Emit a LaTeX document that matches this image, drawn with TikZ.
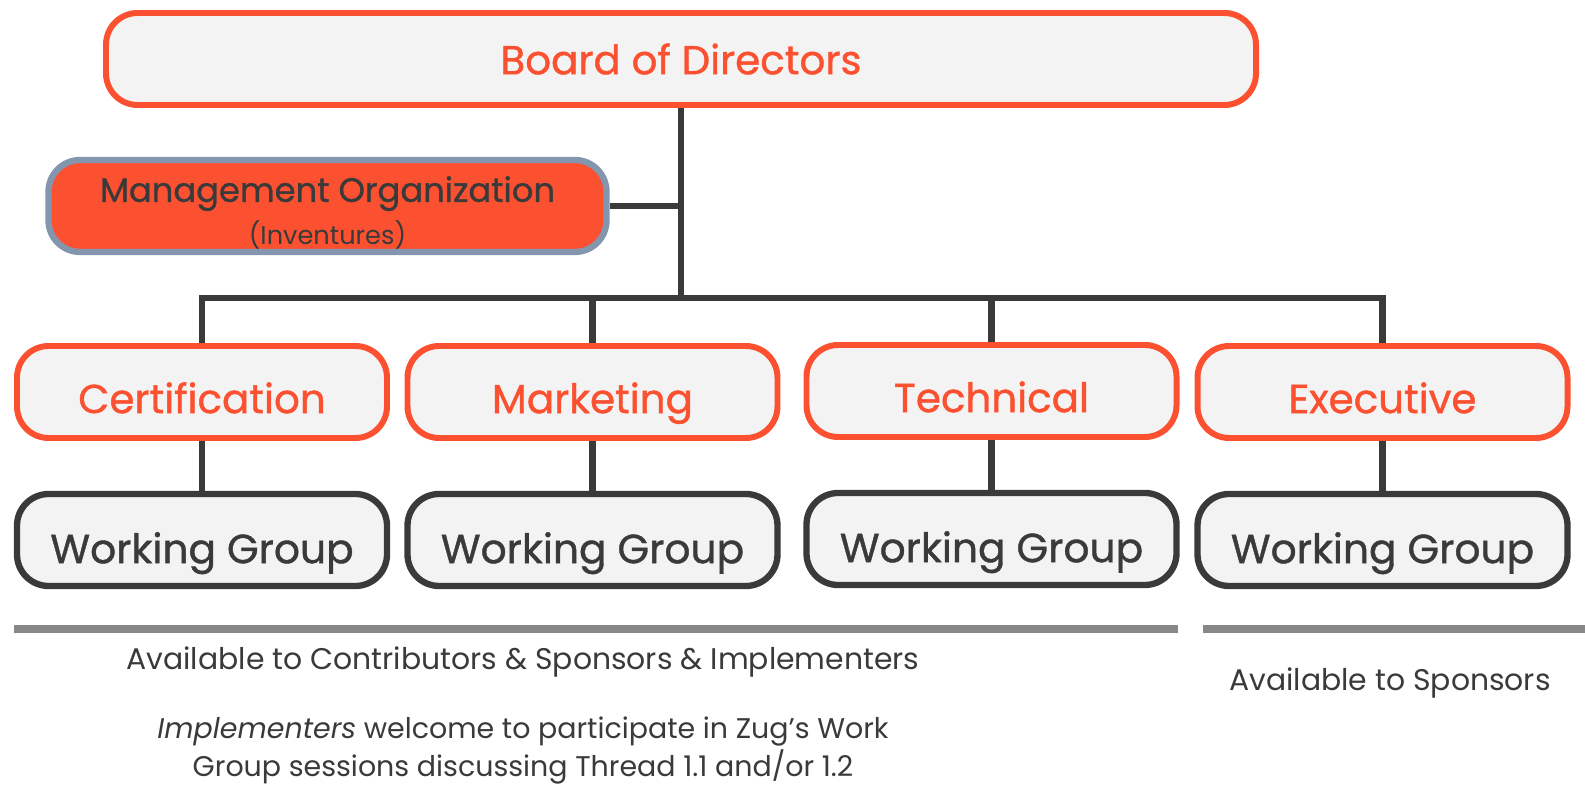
\documentclass[tikz,border=0pt]{standalone}
\usepackage{fontspec}
\setmainfont{Poppins}
\newfontfamily\boxfont{Poppins}[FakeBold=1]
\usetikzlibrary{positioning}

\definecolor{zugorange}{HTML}{FC5130}
\definecolor{boxfill}{HTML}{F3F3F3}
\definecolor{darkline}{HTML}{3A3A3A}
\definecolor{mgmtedge}{HTML}{8496AE}
\definecolor{rulegray}{HTML}{888888}

\tikzset{
  board/.style={draw=zugorange, line width=1.7pt, fill=boxfill, rounded corners=9pt,
    minimum width=11.5cm, minimum height=0.92cm, text=zugorange,
    font=\boxfont\fontsize{11.5}{14}\selectfont},
  mgmt/.style={draw=mgmtedge, line width=1.8pt, fill=zugorange, rounded corners=9pt,
    minimum width=5.58cm, minimum height=0.92cm, inner ysep=0pt,
    text=darkline, align=center},
  committee/.style={draw=zugorange, line width=1.7pt, fill=boxfill, rounded corners=9pt,
    minimum width=3.7cm, minimum height=0.92cm, text=zugorange,
    text height=14pt, text depth=2pt,
    font=\boxfont\fontsize{11.5}{14}\selectfont},
  wgroup/.style={draw=darkline, line width=1.8pt, fill=boxfill, rounded corners=9pt,
    minimum width=3.7cm, minimum height=0.92cm, text=darkline,
    text height=15pt, text depth=1.8pt,
    font=\boxfont\fontsize{11.6}{14}\selectfont},
  link/.style={draw=darkline, line width=1.85pt},
  note/.style={text=darkline, align=center, font=\fontsize{8.5}{11}\selectfont}
}

\begin{document}
\begin{tikzpicture}
        \useasboundingbox (0, 0) rectangle (15.85, 7.88);

        \node[board] (bod) at (6.81, 7.29) {Board of Directors};
        \node[mgmt] (mgmt) at (3.275, 5.82)
          {{\boxfont\fontsize{9.6}{12}\selectfont\rule{0pt}{11pt}Management Organization}\\[0pt]
           {\fontsize{7.3}{9}\selectfont (Inventures)}};

        \node[committee] (cert) at (2.02, 3.96) {Certification};
        \node[committee] (mkt) at (5.925, 3.96) {Marketing};
        \node[committee] (tech) at (9.915, 3.97) {Technical};
        \node[committee] (exec) at (13.825, 3.96) {Executive};

        \node[wgroup] (wgcert) at (2.02, 2.48) {Working Group};
        \node[wgroup] (wgmkt) at (5.925, 2.48) {Working Group};
        \node[wgroup] (wgtech) at (9.915, 2.49) {Working Group};
        \node[wgroup] (wgexec) at (13.825, 2.48) {Working Group};

        % tree
        \coordinate (hub) at (6.81, 4.90);
        \coordinate (mid) at (6.81, 5.82);
        \draw[link] (bod.south) -- (hub);
        \draw[link] (mgmt.east) -- (mid);
        \draw[link] (cert.north) |- (hub) -| (exec.north);
        \draw[link] (mkt.north) -- (mkt.north |- hub);
        \draw[link] (tech.north) -- (tech.north |- hub);

        \draw[link] (cert) -- (wgcert);
        \draw[link] (mkt) -- (wgmkt);
        \draw[link] (tech) -- (wgtech);
        \draw[link] (exec) -- (wgexec);

        % audience
        \draw[rulegray, line width=2pt] (0.14, 1.59) -- (11.78, 1.59);
        \draw[rulegray, line width=2pt] (12.03, 1.59) -- (15.85, 1.59);

        \node[note] (open) at (5.23, 1.26) {Available to Contributors \& Sponsors \& Implementers};
        \node[note] (spons) at (13.90, 1.05) {Available to Sponsors};
        \node[note, font=\fontsize{8.1}{9.5}\selectfont] (impl) at (5.23, 0.37)
          {\textit{Implementers} welcome to participate in Zug’s Work\\
           Group sessions discussing Thread 1.1 and/or 1.2};
\end{tikzpicture}
\end{document}
